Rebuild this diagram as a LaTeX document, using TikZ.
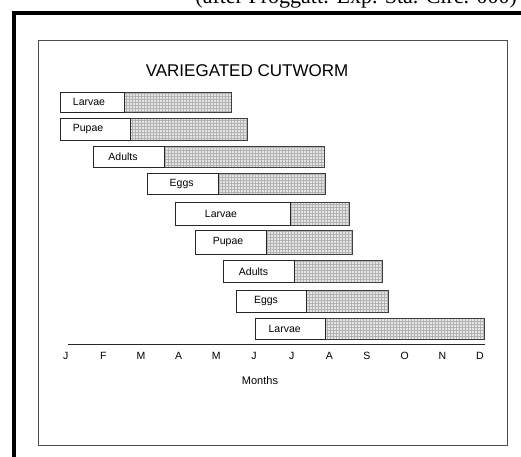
\documentclass[tikz,border=0pt]{standalone}
\usepackage{fontspec}
\setmainfont{Liberation Sans}
\newfontfamily\serifont{Liberation Serif}
\usetikzlibrary{patterns}
\begin{document}
\begin{tikzpicture}[x=1pt,y=-1pt,
  stagebox/.style={draw=black!85, line width=0.8pt, fill=white},
  hatchbox/.style={draw=black!75, line width=0.8pt},
  lbl/.style={font=\fontsize{10.5}{12}\selectfont, inner sep=0pt},
  mon/.style={font=\fontsize{10.5}{12}\selectfont, inner sep=0pt}]
\useasboundingbox (0,0) rectangle (521,456);
% header text cut by page edge
\node[anchor=base east, inner sep=0pt, font=\serifont\fontsize{22}{24}\selectfont] (hdr) at (517,3) {(after Froggatt: Exp. Sta. Circ. 000)};
% thick outer frame
\draw[line width=4pt, black] (14,13) rectangle (560,480);
% inner frame
\draw[line width=0.8pt, black!70] (38.7,40) rectangle (507,445);
% title
\node[inner sep=0pt, font=\fontsize{17}{20}\selectfont] (title) at (247,71) {VARIEGATED CUTWORM};
% bars
\foreach \a/\b/\c/\t/\u/\lx/\txt [count=\i] in {
  60/124/231/92/112/89/Larvae,
  60/130.7/247.7/118.7/140/88/Pupae,
  93.3/164.3/324.3/146.7/167.3/123/Adults,
  147.7/218.7/325.7/173.3/194/181.7/Eggs,
  175.3/290/349.3/202.7/225.3/221/Larvae,
  195.7/266.3/352/230.7/254/228/Pupae,
  223.7/294/382.3/260.7/282/253.5/Adults,
  236/306.7/388.3/290/312/266/Eggs,
  255/325.7/484.3/318/339.3/284.7/Larvae}{
  \fill[gray!20] (\b,\t) rectangle (\c,\u);
  \fill[pattern=grid, pattern color=gray!60] (\b,\t) rectangle (\c,\u);
  \draw[hatchbox] (\b,\t) rectangle (\c,\u);
  \draw[stagebox] (\a,\t) rectangle (\b,\u);
  \node[lbl] (lab\i) at (\lx,{(\t+\u)/2}) {\txt};
}
% axis
\coordinate (axL) at (67.7,344);
\coordinate (axR) at (485,344);
\draw[line width=0.9pt, black!85] (axL) -- (axR);
\foreach \m [count=\k] in {J,F,M,A,M,J,J,A,S,O,N,D}{
  \node[mon] (m\k) at ({65.7+(\k-1)*37.66},356) {\m};
}
\node[mon, font=\fontsize{11}{13}\selectfont] (months) at (260,381) {Months};
\end{tikzpicture}
\end{document}
